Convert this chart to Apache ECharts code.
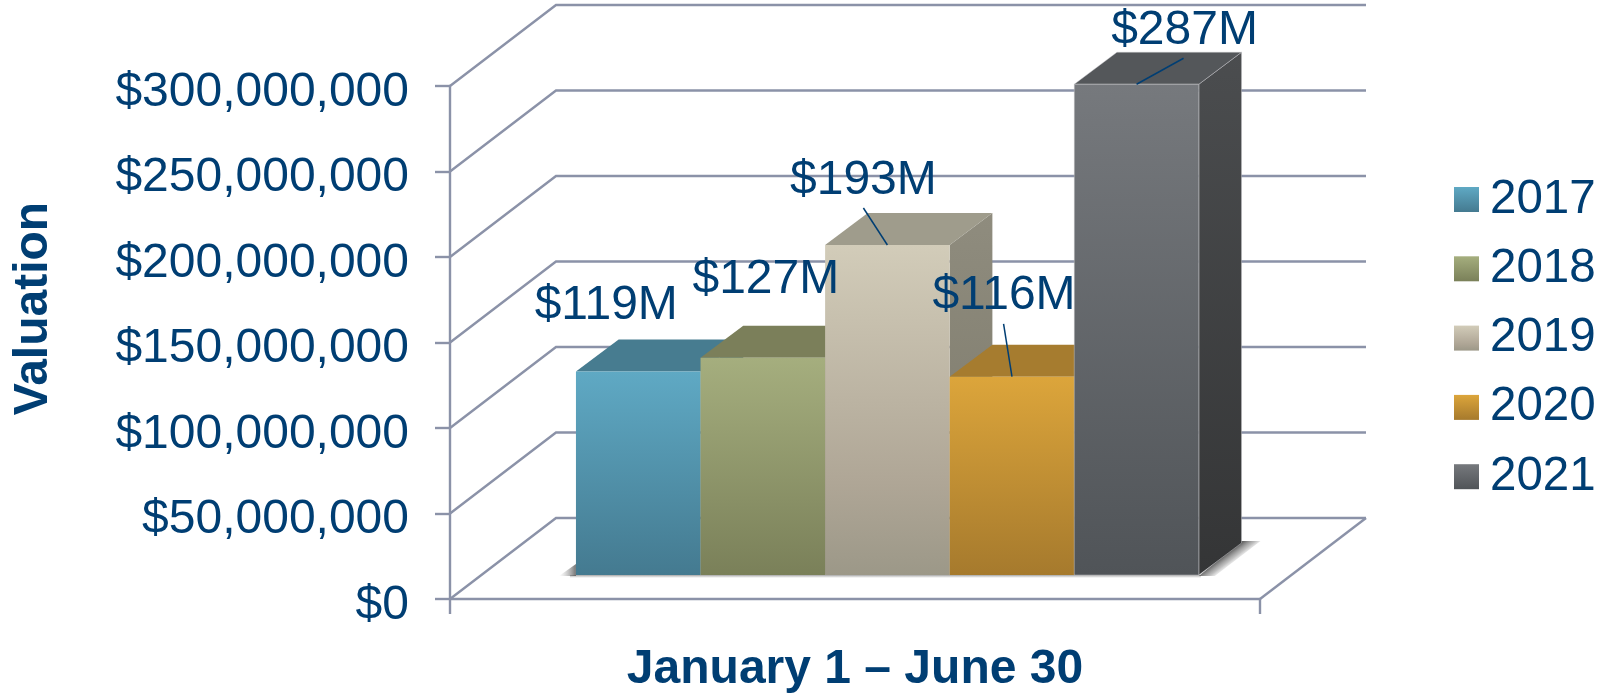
<!DOCTYPE html>
<html>
<head>
<meta charset="utf-8">
<style>html,body{margin:0;padding:0;background:#fff}#c{width:1615px;height:693px}</style>
<script src="https://cdn.jsdelivr.net/npm/echarts@6/dist/echarts.min.js"></script>
</head>
<body>
<div id="c"></div>
<script>
const categories = ['January 1 \u2013 June 30'];
const years = ['2017', '2018', '2019', '2020', '2021'];
const valuations = [119000000, 127000000, 193000000, 116000000, 287000000];
const valueLabels = ['$119M', '$127M', '$193M', '$116M', '$287M'];
const yTicks = [0, 50000000, 100000000, 150000000, 200000000, 250000000, 300000000];

// Appearance and placement, kept apart from the data
const INK = '#003E73', GRID = '#8B92A8', FONT = '"Liberation Sans", Arial, sans-serif';
const WALL = [106, -81], BAR_DEPTH = [42.7, -32], BAR_INSET = [32.4, -24], BAR_SHARE = 0.769;
const stops = c => ({type: 'linear', x: 0, y: 0, x2: 0, y2: 1,
  colorStops: c.map((col, i) => Array.isArray(col) ? {offset: col[1], color: col[0]} : {offset: i / (c.length - 1), color: col})});
const fronts = [
  ['#5FA9C4', '#447A90'], ['#A5AE7E', '#7A8059'],
  ['#D2CCB9', ['#AFA696', 0.72], '#9C9888'],
  ['#DCA53B', '#A67A2D'], ['#76797D', '#505458']
];
const tops = ['#477C90', '#7B7F5A', '#9F9C8C', '#A67C2F', '#54575A'];
const sides = [['#477C90', '#3F6F82'], ['#7B7F5A', '#6E7250'], ['#8F8C7E', '#7A7768'], ['#A67C2F', '#8E6A28'], ['#4B4D4F', '#343536']];
const labelAt = [[-32, -66], [3, -78], [-24, -64], [-8, -81], [48, -53]];
const leaderFrom = [null, null, [-24, -37], [-8.4, -52.7], [47, -26]];

const barBox = (api, i, value) => {
  const c0 = api.coord([0, 0]), cv = api.coord([0, value]);
  const w = api.size([1, 0])[0] * BAR_SHARE / years.length;
  const x = c0[0] + BAR_INSET[0] + (i - years.length / 2) * w;
  return {x, w, y: cv[1] + BAR_INSET[1], base: c0[1] + BAR_INSET[1]};
};

const barSeries = years.map((year, i) => ({
  type: 'custom', name: year, silent: true, z: 4,
  coordinateSystem: 'cartesian2d',
  itemStyle: {color: stops(fronts[i])},
  encode: {x: 0, y: 1},
  data: [[0, valuations[i]]],
  renderItem: (p, api) => {
    const b = barBox(api, i, api.value(1));
    const [dx, dy] = BAR_DEPTH;
    const edge = i === 4 ? {stroke: 'rgba(200,200,205,.45)', lineWidth: 1} : {};
    return {type: 'group', children: [
      {type: 'polygon', shape: {points: [[b.x + b.w, b.y], [b.x + b.w + dx, b.y + dy], [b.x + b.w + dx, b.base + dy], [b.x + b.w, b.base]]},
        style: {fill: stops(sides[i]), ...edge}},
      {type: 'polygon', shape: {points: [[b.x, b.y], [b.x + dx, b.y + dy], [b.x + b.w + dx, b.y + dy], [b.x + b.w, b.y]]},
        style: {fill: tops[i], ...edge}},
      {type: 'rect', shape: {x: b.x, y: b.y, width: b.w, height: b.base - b.y},
        style: {fill: stops(fronts[i]), ...edge}}
    ]};
  }
}));

const wallSeries = {
  type: 'custom', name: 'walls', silent: true, z: 2,
  encode: {x: 0, y: 1},
  data: yTicks.map(t => [0, t]),
  renderItem: (p, api) => {
    const c = api.coord([0, api.value(1)]), half = api.size([1, 0])[0] / 2;
    const l = c[0] - half, r = c[0] + half, children = [];
    const s = {stroke: GRID, lineWidth: 2.4, fill: null};
    children.push({type: 'polyline', shape: {points: [[l, c[1]], [l + WALL[0], c[1] + WALL[1]], [r + WALL[0], c[1] + WALL[1]]]}, style: s});
    if (api.value(1) === 0) {
      children.push({type: 'line', shape: {x1: r, y1: c[1], x2: r + WALL[0], y2: c[1] + WALL[1]}, style: s});
    }
    return {type: 'group', children};
  }
};

const shadowSeries = {
  type: 'custom', name: 'shadow', silent: true, z: 3,
  encode: {x: 0, y: 1},
  data: [[0, 0]],
  renderItem: (p, api) => {
    const a = barBox(api, 0, 0), z = barBox(api, years.length - 1, 0);
    const x0 = a.x, x1 = z.x + z.w, y = a.base;
    const [dx, dy] = BAR_DEPTH;
    const mx = x1 + dx / 2, my = y + dy / 2;
    return {type: 'group', children: [
      {type: 'rect', shape: {x: x0 - 6, y: y, width: x1 - x0 + 8, height: 3},
        style: {fill: {type: 'linear', x: 0, y: 0, x2: 0, y2: 1, colorStops: [{offset: 0, color: 'rgba(90,90,90,.55)'}, {offset: 1, color: 'rgba(120,120,120,0)'}]}}},
      {type: 'polygon', shape: {points: [[x0, y - 11], [x0, y + 1], [x0 - 17, y + 1]]},
        style: {fill: {type: 'linear', x: 1, y: 0, x2: 0, y2: 0, colorStops: [{offset: 0, color: 'rgba(80,80,80,.8)'}, {offset: 1, color: 'rgba(170,170,170,0)'}]}}},
      {type: 'polygon', shape: {points: [[x1 + dx, y + dy - 2], [x1 + dx + 19, y + dy - 2], [x1 + 16, y + 1], [x1, y + 1]]},
        style: {fill: {type: 'linear', global: true, x: mx, y: my, x2: mx + 8.5, y2: my + 11.3,
          colorStops: [{offset: 0, color: 'rgba(75,75,75,.85)'}, {offset: 0.5, color: 'rgba(130,130,130,.5)'}, {offset: 1, color: 'rgba(220,220,220,0)'}]}}}
    ]};
  }
};

const labelSeries = {
  type: 'custom', name: 'labels', silent: true, z: 6,
  encode: {x: 0, y: 1},
  data: valuations.map((v, i) => [0, v, i]),
  renderItem: (p, api) => {
    const i = api.value(2), b = barBox(api, i, api.value(1));
    const tx = b.x + b.w / 2, children = [];
    if (leaderFrom[i]) {
      children.push({type: 'line', shape: {x1: tx + leaderFrom[i][0], y1: b.y + leaderFrom[i][1], x2: tx, y2: b.y},
        style: {stroke: INK, lineWidth: 1.5}});
    }
    children.push({type: 'text', x: tx + labelAt[i][0], y: b.y + labelAt[i][1],
      style: {text: valueLabels[i], fill: INK, font: '48px ' + FONT, align: 'center', verticalAlign: 'middle'}});
    return {type: 'group', children};
  }
};

const chart = echarts.init(document.getElementById('c'), null, {renderer: 'canvas'});
chart.setOption({
  animation: false,
  backgroundColor: '#fff',
  textStyle: {fontFamily: FONT},
  grid: {left: 450, right: 355, top: 86, bottom: 94, containLabel: false, outerBoundsMode: 'none'},
  legend: {
    data: years.map((y, i) => ({name: y, icon: 'rect', itemStyle: {color: stops(fronts[i])}})),
    orient: 'vertical', left: 1454, top: 169, padding: 0, itemWidth: 25, itemHeight: 25, itemGap: 8.3,
    selectedMode: false,
    textStyle: {color: INK, fontSize: 47.5, fontFamily: FONT, padding: [6, 0, 0, 6], lineHeight: 55}
  },
  xAxis: {
    type: 'category', data: categories,
    axisLine: {show: true, lineStyle: {color: GRID, width: 2.4}},
    axisTick: {show: true, length: 15, alignWithLabel: false, lineStyle: {color: GRID, width: 2.4}},
    axisLabel: {margin: 47, color: INK, fontSize: 48, fontWeight: 'bold', fontFamily: FONT},
    splitLine: {show: false}
  },
  yAxis: {
    type: 'value', min: 0, max: 300000000, interval: 50000000,
    name: 'Valuation', nameLocation: 'middle', nameRotate: 90, nameGap: 392,
    nameTextStyle: {color: INK, fontSize: 48, fontWeight: 'bold', fontFamily: FONT, padding: [0, 0, 0, 68]},
    axisLine: {show: true, lineStyle: {color: GRID, width: 2.4}},
    axisTick: {show: true, length: 15, lineStyle: {color: GRID, width: 2.4}},
    axisLabel: {margin: 41, color: INK, fontSize: 48, fontFamily: FONT, verticalAlign: 'top', lineHeight: 13,
      formatter: v => '$' + v.toLocaleString('en-US')},
    splitLine: {show: false}
  },
  series: [wallSeries, shadowSeries, ...barSeries, labelSeries]
});
</script>
</body>
</html>
